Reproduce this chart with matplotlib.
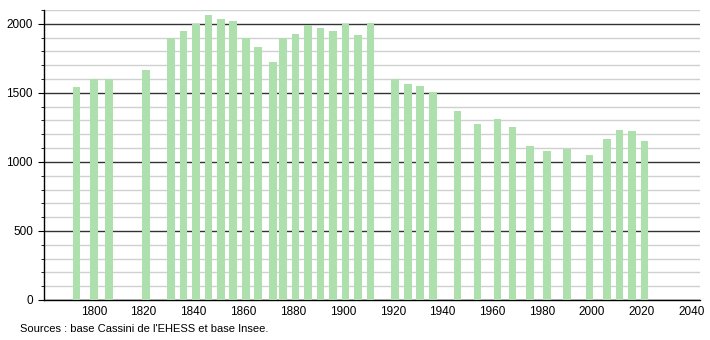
import matplotlib
matplotlib.use("Agg")
import matplotlib.pyplot as plt
from matplotlib.ticker import MultipleLocator

plt.rcParams['font.family'] = ['Liberation Sans', 'DejaVu Sans']

# census years and population
years = [1793, 1800, 1806, 1821, 1831, 1836, 1841, 1846, 1851, 1856,
         1861, 1866, 1872, 1876, 1881, 1886, 1891, 1896, 1901, 1906,
         1911, 1921, 1926, 1931, 1936, 1946, 1954, 1962, 1968, 1975,
         1982, 1990, 1999, 2006, 2011, 2016, 2021]
population = [1540, 1603, 1603, 1668, 1898, 1946, 2001, 2067, 2036, 2023,
              1895, 1835, 1726, 1895, 1929, 1994, 1972, 1948, 1997, 1917,
              2009, 1600, 1566, 1552, 1508, 1371, 1276, 1308, 1250, 1117,
              1080, 1090, 1047, 1163, 1233, 1225, 1153]
xticks = [1800, 1820, 1840, 1860, 1880, 1900, 1920, 1940, 1960, 1980, 2000, 2020, 2040]
source = "Sources : base Cassini de l'EHESS et base Insee."

fig = plt.figure(figsize=(7.1, 3.4), dpi=100)
ax = fig.add_axes([44 / 710, 40 / 340, 656 / 710, 290 / 340])

ax.bar(years, population, width=3.1, color='#ade0ad', zorder=3)

ax.set_xlim(1780, 2043.3)
ax.set_ylim(0, 2100)
ax.set_xticks(xticks)
ax.yaxis.set_major_locator(MultipleLocator(500))
ax.yaxis.set_minor_locator(MultipleLocator(100))

# light grid every 100, dark every 500
ax.grid(which='minor', axis='y', color='#d0d0d0', linewidth=1, zorder=1)
ax.grid(which='major', axis='y', color='#333333', linewidth=1, zorder=2)

for s in ['top', 'right']:
    ax.spines[s].set_visible(False)
ax.spines['left'].set_linewidth(1)
ax.spines['bottom'].set_linewidth(1)

ax.tick_params(axis='x', length=0, labelsize=8.5, pad=4)
ax.tick_params(axis='y', which='major', length=4, labelsize=8.5, pad=4)
ax.tick_params(axis='y', which='minor', length=2)

fig.text(20 / 710, 1 - 329 / 340, source, fontsize=8, va='center', ha='left')

fig.savefig("out.png", dpi=100)
